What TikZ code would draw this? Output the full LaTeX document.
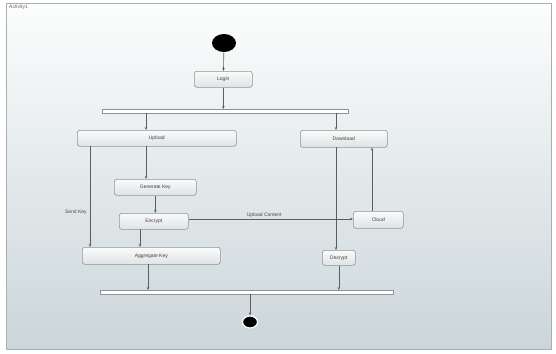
\documentclass[tikz,border=0pt]{standalone}
\usepackage{fontspec}
\setmainfont{Liberation Sans}
\usetikzlibrary{arrows.meta,shapes.geometric}
\definecolor{frameline}{HTML}{A9AEB1}
\definecolor{bgtop}{HTML}{FCFDFD}
\definecolor{bgbot}{HTML}{CBD6DA}
\definecolor{boxline}{HTML}{8E9396}
\definecolor{boxtop}{HTML}{FAFBFB}
\definecolor{boxbot}{HTML}{DDE3E4}
\definecolor{flow}{HTML}{5A5E60}
\begin{document}
\begin{tikzpicture}[x=1pt,y=-1pt,
  act/.style={draw=boxline,line width=0.6pt,rounded corners=2.5pt,
    top color=boxtop,bottom color=boxbot,font=\fontsize{5}{6}\selectfont,
    text=black!75,inner sep=0pt,anchor=north west},
  bar/.style={draw=boxline,fill=white,line width=0.6pt,inner sep=0pt,anchor=north west},
  flowline/.style={draw=flow,line width=0.6pt,-{Stealth[length=3pt,width=2.5pt]}},
  lbl/.style={font=\fontsize{5}{6}\selectfont,text=black!70,inner sep=1pt}]
\useasboundingbox (0,0) rectangle (556,353);
% activity frame
\fill[white] (0,0) rectangle (556,353);
\shade[top color=bgtop,bottom color=bgbot] (6,3) rectangle (551,349);
\draw[frameline,line width=0.8pt] (6,3) rectangle (551,349);
\node[lbl,anchor=north west,text=black!60] (title) at (8,4) {Activity1};
% start / end
\node[fill=black,ellipse,minimum width=24pt,minimum height=18pt,inner sep=0pt] (start) at (224,43) {};
\node[fill=black,draw=white,line width=1.2pt,ellipse,minimum width=15pt,minimum height=12pt,inner sep=0pt] (stop) at (250,322) {};
% actions
\node[act,minimum width=58pt,minimum height=16pt] (login) at (194,71) {Login};
\node[bar,minimum width=246pt,minimum height=4pt] (fork) at (102,109) {};
\node[act,minimum width=159pt,minimum height=16pt] (upload) at (77,130) {Upload};
\node[act,minimum width=87pt,minimum height=17pt] (download) at (300,130) {Download};
\node[act,minimum width=82pt,minimum height=16pt] (genkey) at (114,179) {Generate Key};
\node[act,minimum width=69pt,minimum height=16pt] (encrypt) at (119,213) {Encrypt};
\node[act,minimum width=50pt,minimum height=17pt] (cloud) at (353,211) {Cloud};
\node[act,minimum width=138pt,minimum height=17pt] (aggkey) at (82,247) {Aggregate Key};
\node[act,minimum width=33pt,minimum height=15pt] (decrypt) at (322,250) {Decrypt};
\node[bar,minimum width=293pt,minimum height=4pt] (join) at (100,290) {};
% control flows
\draw[flowline] (start) -- (login);
\draw[flowline] (login) -- (login |- fork.north);
\draw[flowline] (146,113) coordinate (f1) -- (f1 |- upload.north);
\draw[flowline] (336,113) coordinate (f2) -- (f2 |- download.north);
\draw[flowline] (146,146) coordinate (u1) -- (u1 |- genkey.north);
\draw[flowline] (genkey) -- (genkey |- encrypt.north);
\draw[flowline] (90,146) coordinate (u2) -- (u2 |- aggkey.north)
  node[lbl,pos=0.66,left=2pt] (sendkey) {Send Key};
\draw[flowline] (encrypt.east |- 0,219) coordinate (e1) -- (e1 -| cloud.west)
  node[lbl,pos=0.46,above] (upcontent) {Upload Content};
\draw[flowline] (140,229) coordinate (e2) -- (e2 |- aggkey.north);
\draw[flowline] (372,211) coordinate (c1) -- (c1 |- download.south);
\draw[flowline] (336,147) coordinate (d1) -- (d1 |- decrypt.north);
\draw[flowline] (148,264) coordinate (a1) -- (a1 |- join.north);
\draw[flowline] (decrypt) -- (decrypt |- join.north);
\draw[flowline] (250,294) coordinate (j1) -- (stop);
\end{tikzpicture}
\end{document}
